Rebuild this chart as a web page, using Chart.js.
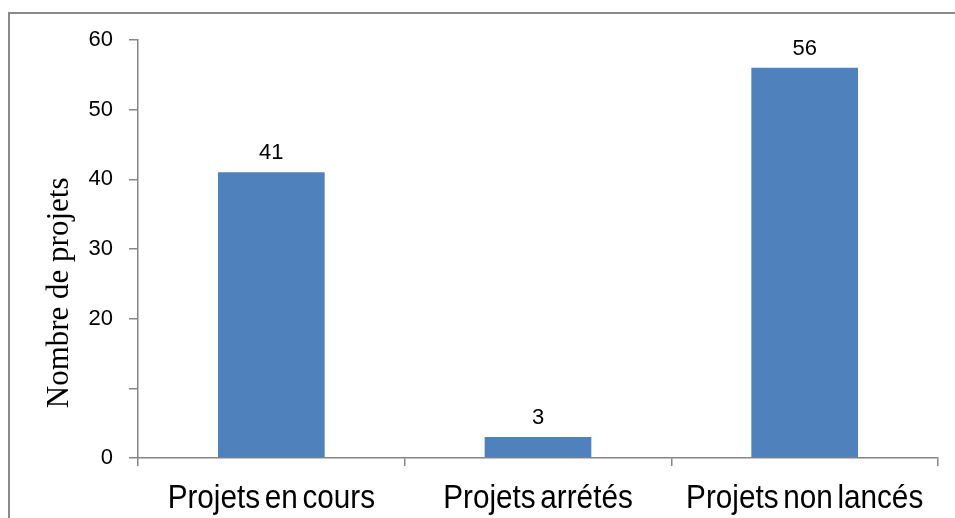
<!DOCTYPE html>
<html>
<head>
<meta charset="utf-8">
<script src="https://cdn.jsdelivr.net/npm/chart.js@4/dist/chart.umd.min.js"></script>
<style>
  html, body { margin: 0; padding: 0; background: #fff; }
  #wrap { position: relative; width: 955px; height: 518px; overflow: hidden; }
  #frame { position: absolute; left: 8px; top: 12px; right: -4px; bottom: -4px; border-top: 2px solid #8a8a8a; border-left: 2px solid #8a8a8a; }
  canvas { position: absolute; left: 0; top: 0; }
</style>
</head>
<body>
<div id="wrap">
  <div id="frame"></div>
  <canvas id="chart" width="955" height="518"></canvas>
</div>
<script>
// values
const categories = ["Projets en cours", "Projets arrétés", "Projets non lancés"];
const projectCounts = [41, 3, 56];
const yTickValues = [0, 10, 20, 30, 40, 50, 60];
const yTickLabels = ["0", "", "20", "30", "40", "50", "60"]; // 10 has no label in the source
const yAxisTitle = "Nombre de projets";

const barColor = "#4f81bd";
const axisColor = "#868686";
const sans = "'Liberation Sans', Arial, sans-serif";

const valueLabelsPlugin = {
  id: "valueLabels",
  afterDatasetsDraw(chart) {
    const { ctx } = chart;
    const meta = chart.getDatasetMeta(0);
    ctx.save();
    ctx.font = `22px ${sans}`;
    ctx.fillStyle = "#000";
    ctx.textAlign = "center";
    ctx.textBaseline = "alphabetic";
    meta.data.forEach((bar, i) => ctx.fillText(String(projectCounts[i]), bar.x, bar.y - 13));
    ctx.restore();
  },
};

// category labels in the source are squeezed horizontally, which Chart.js ticks can't do
const xLabelsPlugin = {
  id: "xLabels",
  afterDraw(chart) {
    const { ctx } = chart;
    const x = chart.scales.x;
    ctx.save();
    ctx.font = `33px ${sans}`;
    ctx.fillStyle = "#000";
    ctx.textAlign = "center";
    ctx.textBaseline = "alphabetic";
    if ("wordSpacing" in ctx) ctx.wordSpacing = "-4px";
    categories.forEach((label, i) => {
      ctx.save();
      ctx.translate(x.getPixelForTick(i), x.top + 50);
      ctx.scale(0.9, 1);
      ctx.fillText(label, 0, 0);
      ctx.restore();
    });
    ctx.restore();
  },
};

// axis title sits lower than the plot centre in the source, so draw it by hand
const yTitlePlugin = {
  id: "yTitle",
  afterDraw(chart) {
    const { ctx, chartArea } = chart;
    ctx.save();
    ctx.translate(68, chartArea.top + chartArea.height * 0.605);
    ctx.rotate(-Math.PI / 2);
    ctx.font = "31px 'Liberation Serif', 'Times New Roman', serif";
    ctx.fillStyle = "#000";
    ctx.textAlign = "center";
    ctx.textBaseline = "alphabetic";
    ctx.fillText(yAxisTitle, 0, 0);
    ctx.restore();
  },
};

new Chart(document.getElementById("chart"), {
  type: "bar",
  data: {
    labels: categories,
    datasets: [{ data: projectCounts, backgroundColor: barColor, borderWidth: 0, barPercentage: 0.4, categoryPercentage: 1 }],
  },
  options: {
    responsive: false,
    animation: false,
    layout: { padding: { left: 0, top: 40, right: 17, bottom: 0 } },
    plugins: { legend: { display: false }, tooltip: { enabled: false } },
    scales: {
      x: {
        grid: { drawOnChartArea: false, drawTicks: true, tickLength: 8, color: axisColor, lineWidth: 1.5 },
        border: { color: axisColor, width: 1.5 },
        ticks: { display: false },
        afterFit: (scale) => { scale.height = 60; },
      },
      y: {
        min: 0,
        max: 60,
        afterBuildTicks: (scale) => { scale.ticks = yTickValues.map((v) => ({ value: v })); },
        grid: { drawOnChartArea: false, drawTicks: true, tickLength: 9, color: axisColor, lineWidth: 1.5 },
        border: { color: axisColor, width: 1.5 },
        ticks: { color: "#000", font: { family: sans, size: 22 }, padding: 16, callback: (v, i) => yTickLabels[i] },
        afterFit: (scale) => { scale.width = 138; },
      },
    },
  },
  plugins: [valueLabelsPlugin, xLabelsPlugin, yTitlePlugin],
});
</script>
</body>
</html>
